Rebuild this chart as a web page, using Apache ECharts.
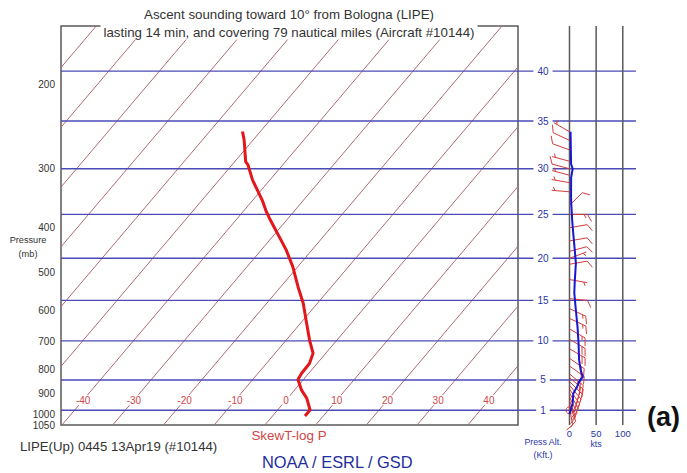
<!DOCTYPE html>
<html><head><meta charset="utf-8">
<script src="https://cdn.jsdelivr.net/npm/echarts@6/dist/echarts.min.js"></script>
<style>html,body{margin:0;padding:0;background:#fff}#c{width:687px;height:473px}</style>
</head><body><div id="c"></div>
<script>
// ---------- data ----------
const tempP = [1005, 976, 922, 886, 841, 816, 778, 740, 694, 630, 580, 535, 485, 447, 383, 371, 351, 318, 295, 291, 262, 251];
const tempT = [6.4, 6.4, 3.8, 1.4, -1.1, -1.4, -1.5, -2.5, -5.4, -9.4, -12.8, -16.6, -21.0, -25.1, -33.7, -35.4, -38.1, -43.4, -46.9, -47.8, -51.7, -53.5];
const pressureTicks = [200, 300, 400, 500, 600, 700, 800, 900, 1000, 1050];
const isothermT = [-100, -90, -80, -70, -60, -50, -40, -30, -20, -10, 0, 10, 20, 30, 40];
const isothermLabels = [-40, -30, -20, -10, 0, 10, 20, 30, 40];
const altTicks = [1, 5, 10, 15, 20, 25, 30, 35, 40];
const speedTicks = [0, 50, 100];
const speedAlt = [33.9, 30.5, 30.0, 29.0, 26.6, 24.4, 22.9, 20.9, 19.4, 17.4, 15.9, 13.8, 11.8, 9.7, 7.6, 6.3, 5.4, 5.0, 4.1, 3.2, 1.9, 1.0, 0.5];
const speedKts = [2, 3, 6, 3, 3, 5, 7, 10, 12, 10, 9, 12, 15, 17, 18, 21, 25, 20, 14, 7, 6, 2, 0];
const barbAlt = [33.9, 33.0, 32.0, 30.8, 30.0, 29.3, 28.5, 27.5, 26.0, 25.0, 23.5, 22.0, 20.8, 20.0, 19.3, 17.5, 15.2, 14.0, 12.8, 11.5, 10.2, 9.0, 7.8, 6.8, 5.8, 5.3, 4.8, 4.3, 3.8, 3.3, 2.8, 2.3, 1.8, 1.4, 1.0];
const barbDir = [300, 295, 290, 285, 285, 285, 280, 275, 45, 90, 80, 80, 75, 70, 80, 100, 95, 115, 115, 120, 120, 120, 125, 125, 130, 130, 135, 140, 145, 150, 155, 160, 160, 170, 0];
const barbKts = [5, 10, 10, 5, 10, 5, 5, 5, 10, 15, 10, 10, 10, 5, 10, 5, 10, 15, 15, 15, 20, 20, 20, 20, 25, 25, 20, 20, 20, 15, 15, 15, 10, 10, 0];

// ---------- helpers ----------
const P_BOT = 1050, P_TOP = 150, SKEW = 34.3;
const skewX = (t, p) => t + SKEW * Math.log(P_BOT / p);
const stdP = h => 1013.25 * Math.pow(1 - 6.8756e-6 * h * 1000, 5.2559);
const FONT = "'Liberation Sans', Arial, sans-serif";
const BLUE_LINE = '#4b4bb8', ISO = '#b06a72', RED_TXT = '#cf4646', NAVY = '#2a34a8';

const chart = echarts.init(document.getElementById('c'), null, {renderer: 'svg'});

const hLine = (params, api) => {
  const cs = params.coordSys;
  const y = api.coord([0, api.value(1)])[1];
  return {type: 'line', shape: {x1: cs.x, y1: y, x2: cs.x + cs.width, y2: y},
    style: {stroke: BLUE_LINE, lineWidth: 1.3}};
};

const barbColor = '#d23c3c';
function renderBarb(params, api) {
  const p = api.value(0), dir = api.value(1), spd = api.value(2);
  const base = api.coord([0, p]);
  const st = {stroke: barbColor, lineWidth: 1, fill: 'none'};
  if (spd < 2.5) {
    return {type: 'circle', shape: {cx: base[0], cy: base[1], r: 3.5}, style: st};
  }
  const a = dir * Math.PI / 180;
  const ux = Math.sin(a), uy = -Math.cos(a);
  const L = 18;
  const tip = [base[0] + ux * L, base[1] + uy * L];
  const ch = [{type: 'line', shape: {x1: base[0], y1: base[1], x2: tip[0], y2: tip[1]}, style: st}];
  const px = -uy, py = ux;
  let rem = Math.round(spd / 5) * 5, d = 0;
  const fl = 8;
  while (rem >= 10) {
    const sx = tip[0] - ux * d, sy = tip[1] - uy * d;
    ch.push({type: 'line', shape: {x1: sx, y1: sy, x2: sx + fl * (0.87 * px + 0.5 * ux), y2: sy + fl * (0.87 * py + 0.5 * uy)}, style: st});
    rem -= 10; d += 3.5;
  }
  if (rem >= 5) {
    if (d === 0) d = 3.5;
    const sx = tip[0] - ux * d, sy = tip[1] - uy * d;
    ch.push({type: 'line', shape: {x1: sx, y1: sy, x2: sx + fl * 0.5 * (0.87 * px + 0.5 * ux), y2: sy + fl * 0.5 * (0.87 * py + 0.5 * uy)}, style: st});
  }
  return {type: 'group', children: ch};
}

const txt = (text, x, y, font, fill, align, extra) => Object.assign({
  type: 'text', x: x, y: y, z: 100,
  style: Object.assign({text: text, font: font, fill: fill, textAlign: align || 'left', textVerticalAlign: 'middle'}, extra || {})
});

const labelSeries = (xi, yi, data, color, pad, z) => ({
  type: 'custom', xAxisIndex: xi, yAxisIndex: yi, z: z, silent: true,
  data: data,
  renderItem: (params, api) => {
    const pt = api.coord([api.value(0), api.value(1)]);
    return {type: 'text', x: pt[0], y: pt[1],
      style: {text: String(api.value(2)), fill: color, font: '10px ' + FONT,
        textAlign: 'center', textVerticalAlign: 'middle', backgroundColor: '#fff', padding: pad}};
  }
});

const option = {
  backgroundColor: '#fff',
  animation: false,
  grid: [
    {left: 61, top: 26, width: 457, height: 399, show: true, borderColor: '#5a5a5a', borderWidth: 1.5, backgroundColor: 'transparent'},
    {left: 518, top: 26, width: 118, height: 399, show: false}
  ],
  xAxis: [
    {gridIndex: 0, type: 'value', min: -40.2, max: 49.9, show: false},
    {gridIndex: 1, type: 'value', min: -96.6, max: 124.8,
      axisLine: {show: false}, axisTick: {show: false}, splitLine: {show: false},
      axisLabel: {customValues: speedTicks, color: NAVY, fontSize: 9.5, fontFamily: FONT, margin: 3}}
  ],
  yAxis: [
    {gridIndex: 0, type: 'log', logBase: 10, min: P_TOP, max: P_BOT, inverse: true,
      axisLine: {show: false}, axisTick: {show: false}, splitLine: {show: false}, minorTick: {show: false},
      axisLabel: {customValues: pressureTicks, formatter: v => String(Math.round(v)), color: '#333', fontSize: 10, fontFamily: FONT, margin: 6}},
    {gridIndex: 1, type: 'log', logBase: 10, min: P_TOP, max: P_BOT, inverse: true, show: false}
  ],
  series: [
    { // isotherms
      type: 'custom', xAxisIndex: 0, yAxisIndex: 0, clip: true, z: 1, silent: true,
      data: isothermT.map(t => [t, P_BOT]),
      renderItem: (params, api) => {
        const t = api.value(0);
        const a = api.coord([skewX(t, P_BOT), P_BOT]);
        const b = api.coord([skewX(t, P_TOP), P_TOP]);
        return {type: 'line', shape: {x1: a[0], y1: a[1], x2: b[0], y2: b[1]}, style: {stroke: ISO, lineWidth: 1}};
      }
    },
    { // altitude lines, main panel
      type: 'custom', xAxisIndex: 0, yAxisIndex: 0, z: 2, silent: true,
      data: altTicks.map(h => [0, stdP(h)]), renderItem: hLine
    },
    // isotherm labels
    labelSeries(0, 0, isothermLabels.map(t => [skewX(t, 930), 930, t]), RED_TXT, [0, 1], 3),
    { // altitude lines, wind panel
      type: 'custom', xAxisIndex: 1, yAxisIndex: 1, z: 2, silent: true,
      data: altTicks.map(h => [0, stdP(h)]), renderItem: hLine
    },
    { // wind panel verticals
      type: 'custom', xAxisIndex: 1, yAxisIndex: 1, z: 3, silent: true,
      data: speedTicks.map(s => [s, P_BOT]),
      renderItem: (params, api) => {
        const cs = params.coordSys;
        const x = api.coord([api.value(0), P_BOT])[0];
        return {type: 'line', shape: {x1: x, y1: cs.y, x2: x, y2: cs.y + cs.height}, style: {stroke: '#5a5a5a', lineWidth: 1.5}};
      }
    },
    // altitude labels
    labelSeries(1, 1, altTicks.map(h => [-49.7, stdP(h), h]), NAVY, [1, 4], 4),
    { // wind barbs
      type: 'custom', xAxisIndex: 1, yAxisIndex: 1, z: 5, silent: true,
      data: barbAlt.map((h, i) => [stdP(h), barbDir[i], barbKts[i]]),
      encode: {y: 0},
      renderItem: renderBarb
    },
    { // wind speed
      type: 'line', xAxisIndex: 1, yAxisIndex: 1, z: 6, silent: true,
      showSymbol: false, symbol: 'none',
      lineStyle: {color: '#1717d0', width: 2},
      data: speedKts.map((s, i) => [s, stdP(speedAlt[i])])
    },
    { // temperature
      type: 'line', xAxisIndex: 0, yAxisIndex: 0, z: 7, silent: true,
      showSymbol: false, symbol: 'none',
      lineStyle: {color: '#e3161b', width: 3},
      data: tempT.map((t, i) => [skewX(t, tempP[i]), tempP[i]])
    }
  ],
  graphic: [
    txt('Ascent sounding toward 10\u00b0 from Bologna (LIPE)', 289, 14, '13.3px ' + FONT, '#333', 'center'),
    txt('lasting 14 min, and covering 79 nautical miles (Aircraft #10144)', 289, 32, '13.3px ' + FONT, '#333', 'center', {backgroundColor: '#fff', padding: [1, 3]}),
    txt('Pressure', 28, 240, '9.2px ' + FONT, '#333', 'center'),
    txt('(mb)', 28, 254, '9.2px ' + FONT, '#333', 'center'),
    txt('SkewT-log P', 289, 435, '13.4px ' + FONT, RED_TXT, 'center'),
    txt('LIPE(Up) 0445 13Apr19 (#10144)', 20, 446, '13.2px ' + FONT, '#333', 'left'),
    txt('NOAA / ESRL / GSD', 262, 462, '16.4px ' + FONT, '#1f2d9e', 'left'),
    txt('Press Alt.', 543, 442, '8.8px ' + FONT, NAVY, 'center'),
    txt('(Kft.)', 543, 455, '8.8px ' + FONT, NAVY, 'center'),
    txt('kts', 596, 444, '8.8px ' + FONT, NAVY, 'center'),
    txt('(a)', 647, 417, 'bold 27px ' + FONT, '#111', 'left')
  ]
};
chart.setOption(option);
</script></body></html>
